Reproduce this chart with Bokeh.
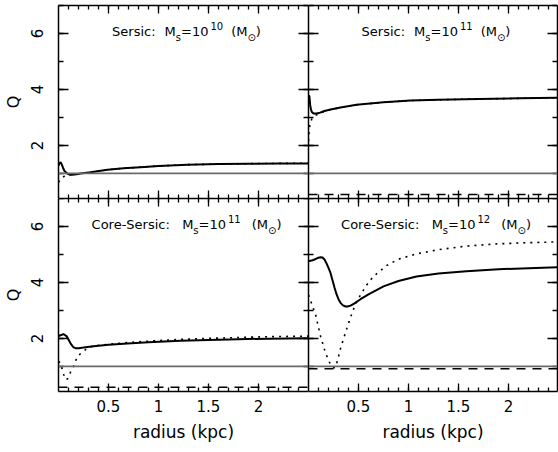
import numpy as np
from bokeh.plotting import figure
from bokeh.layouts import gridplot
from bokeh.models import LinearAxis, Range1d, Span, Label, FixedTicker
from bokeh.embed import file_html
from bokeh.resources import INLINE

# ---------------- data ----------------
x_left_range = (0.0, 2.5)
x_right_range = (0.0, 2.49)
y_lim = (0.1, 7.0)
x_major = [0.5, 1.0, 1.5, 2.0]
x_tick_labels = ["0.5", "1", "1.5", "2"]
x_minor = [round(0.1 * i, 1) for i in range(1, 25)]
y_major = [2, 4, 6]
y_minor = [1, 2, 3, 4, 5, 6, 7]
q_unity = 1.0

panel_model = ["Sersic", "Sersic", "Core-Sersic", "Core-Sersic"]
panel_exp = ["10", "11", "11", "12"]
dashed_level = [0.02, 0.24, 0.25, 0.91]

# Sersic, Ms = 1e10
tl_r_solid = [0.0, 0.01, 0.02, 0.03, 0.045, 0.06, 0.087, 0.11, 0.137, 0.18, 0.22, 0.32, 0.49, 0.65, 0.82, 1.0, 1.29, 1.6, 1.9, 2.2, 2.5]
tl_q_solid = [1.28, 1.36, 1.40, 1.34, 1.20, 1.08, 0.99, 0.96, 0.95, 0.97, 0.99, 1.04, 1.13, 1.18, 1.22, 1.26, 1.31, 1.33, 1.34, 1.35, 1.35]
tl_r_dot = [0.0, 0.02, 0.04, 0.07, 0.1, 0.14, 0.18, 0.22, 0.32, 0.49, 0.65, 0.82, 1.0, 1.29, 1.6, 1.9, 2.2, 2.5]
tl_q_dot = [0.68, 0.78, 0.86, 0.92, 0.94, 0.95, 0.97, 0.99, 1.04, 1.13, 1.18, 1.22, 1.26, 1.31, 1.33, 1.345, 1.355, 1.36]

# Sersic, Ms = 1e11
tr_r_solid = [0.0, 0.005, 0.01, 0.017, 0.025, 0.034, 0.05, 0.08, 0.117, 0.15, 0.22, 0.32, 0.48, 0.75, 1.02, 1.3, 1.7, 2.1, 2.49]
tr_q_solid = [3.72, 3.79, 3.72, 3.43, 3.28, 3.19, 3.14, 3.14, 3.17, 3.22, 3.28, 3.35, 3.45, 3.54, 3.60, 3.63, 3.66, 3.68, 3.70]
tr_r_dot = [0.0, 0.004, 0.008, 0.015, 0.024, 0.034, 0.05, 0.067, 0.09, 0.117, 0.15, 0.22, 0.32, 0.48, 0.75, 1.02, 1.3, 1.7, 2.1, 2.49]
tr_q_dot = [2.15, 2.35, 2.6, 2.75, 2.84, 2.96, 3.02, 3.07, 3.10, 3.13, 3.20, 3.28, 3.35, 3.45, 3.54, 3.60, 3.63, 3.66, 3.68, 3.70]

# Core-Sersic, Ms = 1e11
bl_r_solid = [0.0, 0.02, 0.05, 0.08, 0.10, 0.12, 0.147, 0.17, 0.2, 0.25, 0.35, 0.5, 0.69, 0.9, 1.22, 1.5, 1.8, 2.1, 2.5]
bl_q_solid = [2.08, 2.11, 2.15, 2.08, 1.96, 1.82, 1.69, 1.65, 1.65, 1.67, 1.72, 1.77, 1.82, 1.86, 1.91, 1.94, 1.97, 1.99, 2.00]
bl_r_dot = [0.0, 0.02, 0.04, 0.053, 0.065, 0.075, 0.09, 0.10, 0.12, 0.15, 0.19, 0.24, 0.29, 0.35, 0.5, 0.7, 0.9, 1.2, 1.5, 1.8, 2.1, 2.5]
bl_q_dot = [1.18, 1.12, 0.85, 0.70, 0.58, 0.52, 0.55, 0.62, 0.79, 1.0, 1.36, 1.51, 1.65, 1.73, 1.79, 1.85, 1.90, 1.96, 2.00, 2.03, 2.06, 2.08]

# Core-Sersic, Ms = 1e12
br_r_solid = [0.0, 0.03, 0.06, 0.09, 0.12, 0.14, 0.16, 0.18, 0.20, 0.22, 0.24, 0.26, 0.28, 0.30, 0.32, 0.345, 0.37, 0.39, 0.42, 0.46, 0.52, 0.6, 0.75, 0.9, 1.08, 1.3, 1.58, 1.9, 2.2, 2.49]
br_q_solid = [4.76, 4.78, 4.82, 4.87, 4.90, 4.89, 4.82, 4.68, 4.52, 4.34, 4.08, 3.82, 3.58, 3.40, 3.27, 3.18, 3.14, 3.14, 3.17, 3.25, 3.40, 3.57, 3.86, 4.05, 4.21, 4.32, 4.40, 4.47, 4.51, 4.54]
br_r_dot = [0.0, 0.07, 0.12, 0.17, 0.22, 0.245, 0.265, 0.29, 0.317, 0.35, 0.38, 0.42, 0.45, 0.48, 0.52, 0.58, 0.65, 0.78, 0.9, 1.08, 1.3, 1.58, 1.9, 2.2, 2.49]
br_q_dot = [3.55, 2.86, 2.08, 1.48, 1.06, 0.95, 0.95, 1.2, 1.6, 1.98, 2.32, 2.75, 3.04, 3.30, 3.55, 3.90, 4.22, 4.60, 4.83, 5.02, 5.17, 5.30, 5.38, 5.42, 5.45]

curves = [
    (tl_r_solid, tl_q_solid, tl_r_dot, tl_q_dot),
    (tr_r_solid, tr_q_solid, tr_r_dot, tr_q_dot),
    (bl_r_solid, bl_q_solid, bl_r_dot, bl_q_dot),
    (br_r_solid, br_q_solid, br_r_dot, br_q_dot),
]

# ---------------- style ----------------
FONT = "DejaVu Sans"
FRAME_W = 250
FRAME_H = 193
LEFT_B = 58
BOTTOM_B = 55
TOP_B = 5

# approximate DejaVu Sans advance widths (per 1000 em) for title layout
ADV = {'S': 635, 'e': 615, 'r': 411, 's': 521, 'i': 278, 'c': 550, ':': 337, ' ': 318,
       'M': 863, '=': 838, '1': 636, '0': 636, '2': 636, '(': 390, ')': 390,
       'C': 698, 'o': 612, '-': 361, '\u2299': 838}


def text_width(t, size):
    return sum(ADV.get(ch, 600) for ch in t) * size / 1000.0


def style_axis(ax, major_len, minor_len, labels):
    ax.axis_line_width = 1.5
    ax.axis_line_color = "black"
    ax.major_tick_in = major_len
    ax.major_tick_out = 0
    ax.minor_tick_in = minor_len
    ax.minor_tick_out = 0
    ax.major_tick_line_width = 1.3
    ax.minor_tick_line_width = 1.3
    ax.major_tick_line_color = "black"
    ax.minor_tick_line_color = "black"
    if labels:
        ax.major_label_text_font = FONT
        ax.major_label_text_font_size = "15px"
        ax.major_label_text_color = "black"
    else:
        ax.major_label_text_font_size = "0px"
        ax.major_label_text_color = None
        ax.major_label_standoff = 0


def make_panel(idx):
    col = idx % 2
    row = idx // 2
    xr = x_left_range if col == 0 else x_right_range
    width = (LEFT_B + FRAME_W) if col == 0 else FRAME_W
    height = FRAME_H + (TOP_B if row == 0 else 0) + (BOTTOM_B if row == 1 else 0)
    p = figure(width=width, height=height,
               x_range=Range1d(*xr), y_range=Range1d(*y_lim),
               x_axis_location=None, y_axis_location=None,
               output_backend="svg", toolbar_location=None,
               min_border_left=LEFT_B if col == 0 else 0,
               min_border_right=0 if col == 0 else 1,
               min_border_top=TOP_B if row == 0 else 0,
               min_border_bottom=BOTTOM_B if row == 1 else 0)
    p.xgrid.grid_line_color = None
    p.ygrid.grid_line_color = None
    p.outline_line_color = None
    p.background_fill_color = "white"
    p.border_fill_color = "white"

    xt = FixedTicker(ticks=x_major, minor_ticks=x_minor)
    yt = FixedTicker(ticks=y_major, minor_ticks=y_minor)

    # left
    ax = LinearAxis(ticker=yt)
    style_axis(ax, 10, 5, col == 0)
    if col == 0:
        ax.major_label_orientation = "vertical"
        ax.major_label_standoff = 15
        ax.axis_label = "Q"
        ax.axis_label_text_font = FONT
        ax.axis_label_text_font_size = "16px"
        ax.axis_label_text_font_style = "normal"
        ax.axis_label_text_color = "black"
        ax.axis_label_standoff = 6
    p.add_layout(ax, "left")
    # right
    ax = LinearAxis(ticker=FixedTicker(ticks=y_major, minor_ticks=y_minor))
    style_axis(ax, 10, 5, False)
    p.add_layout(ax, "right")
    # bottom
    ax = LinearAxis(ticker=xt)
    style_axis(ax, 8, 4, row == 1)
    if row == 1:
        ax.major_label_overrides = dict(zip(x_major, x_tick_labels))
        ax.major_label_standoff = 8
        ax.axis_label = "radius (kpc)"
        ax.axis_label_text_font = FONT
        ax.axis_label_text_font_size = "17px"
        ax.axis_label_text_font_style = "normal"
        ax.axis_label_text_color = "black"
        ax.axis_label_standoff = 7
    p.add_layout(ax, "below")
    # top
    ax = LinearAxis(ticker=FixedTicker(ticks=x_major, minor_ticks=x_minor))
    style_axis(ax, 8, 4, False)
    p.add_layout(ax, "above")

    # reference lines
    p.add_layout(Span(location=q_unity, dimension="width", line_color="#6a6a6a", line_width=1.6))
    p.add_layout(Span(location=dashed_level[idx], dimension="width", line_color="black",
                      line_width=1.5, line_dash="9 7"))

    rs, qs, rd, qd = curves[idx]
    p.line(rd, qd, line_color="black", line_width=1.6, line_dash="2 5", line_cap="butt")
    p.line(rs, qs, line_color="black", line_width=2)

    # title with sub/superscripts
    px_per_unit = FRAME_H / (y_lim[1] - y_lim[0])
    base_y = y_lim[1] - 26 / px_per_unit
    shift = 6 / px_per_unit
    pieces = [(panel_model[idx] + ":", 13, 0, 0),
              ("M", 13, 0, 9 if row == 0 else 12),
              ("s", 10, -1, 0),
              ("=10", 13, 0, 0),
              (panel_exp[idx], 10, 1, 2),
              ("(M", 13, 0, 8 if row == 0 else 11),
              ("\u2299", 10, -1, 0),
              (")", 13, 0, 0)]
    total = sum(text_width(t, s) + g for t, s, _, g in pieces)
    xc = (xr[0] + xr[1]) / 2.0
    pos = -total / 2.0 + 3
    for t, s, lvl, g in pieces:
        pos += g
        p.add_layout(Label(x=xc, y=base_y + lvl * shift, x_offset=pos, text=t,
                           text_font=FONT, text_font_size=f"{s}px", text_color="black",
                           text_align="left", text_baseline="alphabetic"))
        pos += text_width(t, s)
    return p


panels = [make_panel(i) for i in range(4)]
grid = gridplot([[panels[0], panels[1]], [panels[2], panels[3]]], toolbar_location=None)

open("out.html", "w").write(file_html(grid, INLINE))
